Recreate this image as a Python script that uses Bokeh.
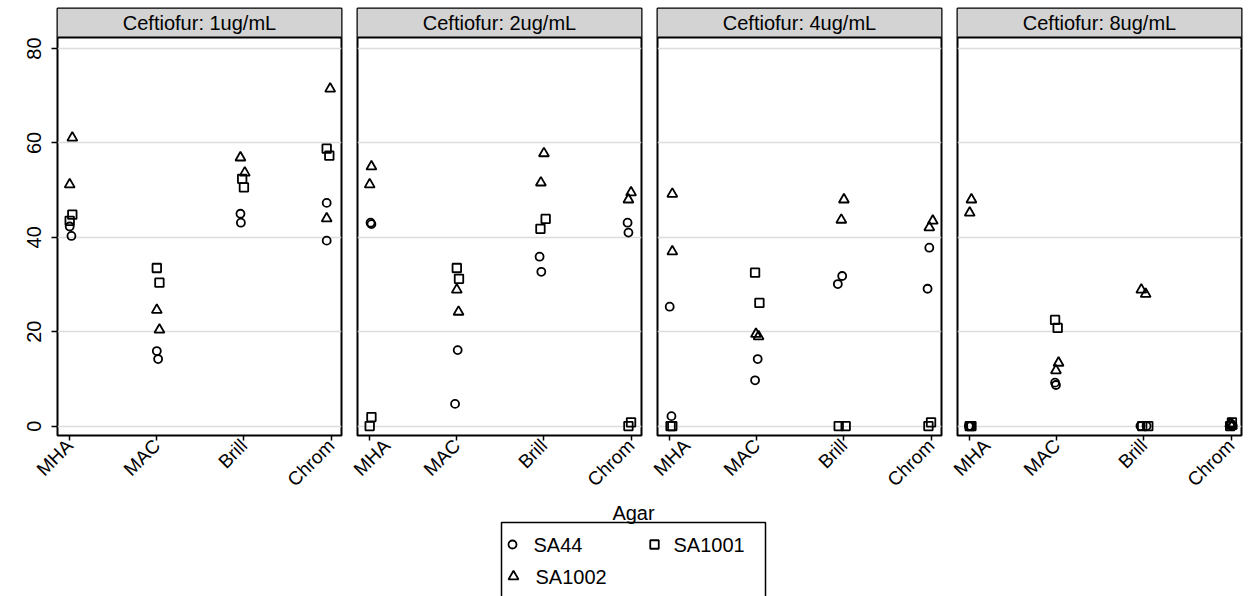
import math
from bokeh.plotting import figure
from bokeh.layouts import row, column
from bokeh.models import Range1d, FixedTicker, Span, Label, BoxAnnotation, ColumnDataSource
from bokeh.embed import file_html
from bokeh.resources import INLINE
from bokeh.core.properties import value

# ---------------- data ----------------
concentrations = ["1ug/mL", "2ug/mL", "4ug/mL", "8ug/mL"]
agars = ["MHA", "MAC", "Brill", "Chrom"]
strains = ["SA44", "SA1001", "SA1002"]
markers = ["circle", "square", "triangle"]
y_ticks = [0, 20, 40, 60, 80]

# values ordered: concentration -> agar -> replicate (2 per agar)
sa44_pct = [
    42.3, 40.3, 15.9, 14.2, 45.0, 43.1, 47.3, 39.3,
    43.1, 42.8, 16.1, 4.7, 35.9, 32.7, 43.1, 41.0,
    25.3, 2.1, 14.2, 9.7, 31.8, 30.1, 37.8, 29.1,
    0.0, 0.0, 9.2, 8.7, 0.0, 0.0, 0.5, 0.0,
]
sa1001_pct = [
    44.8, 43.5, 33.5, 30.4, 52.4, 50.6, 58.8, 57.3,
    1.9, 0.0, 33.5, 31.2, 43.9, 41.8, 0.8, 0.0,
    0.0, 0.0, 32.5, 26.1, 0.0, 0.0, 0.8, 0.0,
    0.0, 0.0, 22.5, 20.8, 0.0, 0.0, 0.8, 0.0,
]
sa1002_pct = [
    61.1, 51.2, 24.6, 20.4, 56.9, 53.7, 71.5, 44.0,
    55.0, 51.2, 28.9, 24.2, 57.8, 51.6, 49.5, 48.0,
    49.2, 37.0, 19.5, 19.0, 48.0, 43.7, 43.5, 42.1,
    48.0, 45.2, 13.4, 11.8, 28.9, 28.0, 0.5, 0.0,
]
# horizontal jitter of each point (in category units)
sa44_jit = [
    0.0, 0.02, 0.0, 0.015, -0.04, -0.035, -0.05, -0.05,
    0.01, 0.02, 0.01, -0.02, -0.05, -0.03, -0.04, -0.03,
    0.0, 0.02, 0.01, -0.02, -0.02, -0.07, -0.02, -0.04,
    0.01, -0.01, -0.02, -0.01, -0.04, 0.03, 0.0, 0.02,
]
sa1001_jit = [
    0.03, 0.0, 0.0, 0.03, -0.02, 0.0, -0.05, -0.02,
    0.02, 0.0, 0.0, 0.025, 0.02, -0.04, 0.0, -0.03,
    0.01, 0.03, -0.02, 0.03, -0.06, 0.02, 0.0, -0.03,
    0.0, 0.02, -0.02, 0.01, -0.02, 0.05, 0.01, -0.01,
]
sa1002_jit = [
    0.03, 0.0, 0.0, 0.03, -0.04, 0.01, -0.01, -0.05,
    0.02, 0.0, 0.0, 0.02, 0.0, -0.035, 0.0, -0.03,
    0.03, 0.03, -0.01, 0.02, 0.0, -0.03, 0.02, -0.02,
    0.02, 0.0, 0.02, -0.01, -0.03, 0.02, -0.01, 0.01,
]

series_vals = [sa44_pct, sa1001_pct, sa1002_pct]
series_jit = [sa44_jit, sa1001_jit, sa1002_jit]

# ---------------- style ----------------
FONT = "Liberation Sans"
HEADER_FILL = "#d3d3d3"
GRID = "#dcdcdc"
MSIZE = {"circle": 8, "square": 8.5, "triangle": 10}
MLW = 1.8

FRAME_W, FRAME_H = 284, 427
TOP = 8
ROW_H = 500
X0, X1 = 0.86, 4.12
Y0, Y1 = -2.0, 88.5
y_rng = Range1d(Y0, Y1)
header_bottom = 82.33
agar_pos = [k + 1 for k in range(len(agars)) for _ in range(2)]

borders = [(57, 8), (8, 8), (8, 8), (8, 8)]

figs = []
for i, conc in enumerate(concentrations):
    first = i == 0
    bl, br = borders[i]
    p = figure(frame_width=FRAME_W, frame_height=FRAME_H,
               x_range=Range1d(X0, X1), y_range=y_rng,
               output_backend="svg", toolbar_location=None,
               min_border_left=bl, min_border_right=br,
               min_border_top=TOP, min_border_bottom=ROW_H - TOP - FRAME_H,
               y_axis_location="left" if first else None,
               outline_line_color="black", outline_line_width=2,
               background_fill_color="white", border_fill_color="white")
    p.xgrid.visible = False
    p.ygrid.ticker = FixedTicker(ticks=y_ticks)
    p.ygrid.grid_line_color = GRID
    p.ygrid.grid_line_width = 1.5

    ax = p.xaxis[0]
    ax.ticker = FixedTicker(ticks=list(range(1, len(agars) + 1)))
    ax.major_label_overrides = {k + 1: a for k, a in enumerate(agars)}
    ax.major_label_orientation = math.pi / 4
    ax.major_label_text_font = FONT
    ax.major_label_text_font_size = "19px"
    ax.major_label_text_color = "black"
    ax.axis_line_color = None
    ax.major_tick_out = 5
    ax.major_tick_in = 0
    ax.minor_tick_out = 0
    ax.minor_tick_in = 0
    ax.major_tick_line_color = "black"
    ax.major_tick_line_width = 1.5
    ax.major_label_standoff = 2

    if first:
        ay = p.yaxis[0]
        ay.ticker = FixedTicker(ticks=y_ticks)
        ay.major_label_orientation = "vertical"
        ay.major_label_text_font = FONT
        ay.major_label_text_font_size = "20px"
        ay.major_label_text_color = "black"
        ay.axis_line_color = None
        ay.major_tick_out = 6
        ay.major_tick_in = 0
        ay.minor_tick_out = 0
        ay.minor_tick_in = 0
        ay.major_tick_line_color = "black"
        ay.major_tick_line_width = 1.5
        ay.major_label_standoff = 10

    for s, (vals, jit, mk) in enumerate(zip(series_vals, series_jit, markers)):
        sl = slice(i * 8, (i + 1) * 8)
        src = ColumnDataSource(dict(
            x=[a + j for a, j in zip(agar_pos, jit[sl])],
            y=vals[sl],
        ))
        p.scatter("x", "y", source=src, marker=mk, size=MSIZE[mk],
                  fill_color=None, line_color="black", line_width=MLW)

    p.add_layout(BoxAnnotation(bottom=header_bottom, fill_color=HEADER_FILL,
                               fill_alpha=1.0, line_color=None))
    p.add_layout(Span(location=header_bottom, dimension="width",
                      line_color="black", line_width=2))
    p.add_layout(Label(x=(X0 + X1) / 2, y=85.4, text=f"Ceftiofur: {conc}",
                       text_align="center", text_baseline="middle",
                       text_font=FONT, text_font_size="20px", text_color="black"))
    figs.append(p)

# ---------------- bottom: axis title + legend ----------------
BH = 596 - ROW_H
b = figure(frame_width=1249, frame_height=BH,
           x_range=Range1d(0, 1249), y_range=Range1d(BH, 0),
           min_border=0, toolbar_location=None, output_backend="svg",
           x_axis_location=None, y_axis_location=None,
           outline_line_color=None, background_fill_color="white",
           border_fill_color="white")
b.grid.visible = False

b.add_layout(Label(x=633, y=1, text="Agar", text_align="center",
                   text_baseline="top", text_font=FONT,
                   text_font_size="20px", text_color="black"))
b.quad(left=[501], right=[765], top=[522 - ROW_H], bottom=[BH + 10],
       fill_color=None, line_color="black", line_width=1.5)
leg_x = [512, 654, 513]
leg_y = [544 - ROW_H, 544 - ROW_H, 576 - ROW_H]
leg_tx = [533, 673, 535]
for k, (name, mk) in enumerate(zip(strains, markers)):
    b.scatter([leg_x[k]], [leg_y[k]], marker=mk, size=MSIZE[mk],
              fill_color=None, line_color="black", line_width=MLW)
b.text(x=leg_tx, y=leg_y, text=strains, text_font=value(FONT),
       text_font_size="20px", text_baseline="middle", text_align="left",
       text_color="black")

layout = column(row(*figs), b)
open("out.html", "w").write(file_html(layout, INLINE))
